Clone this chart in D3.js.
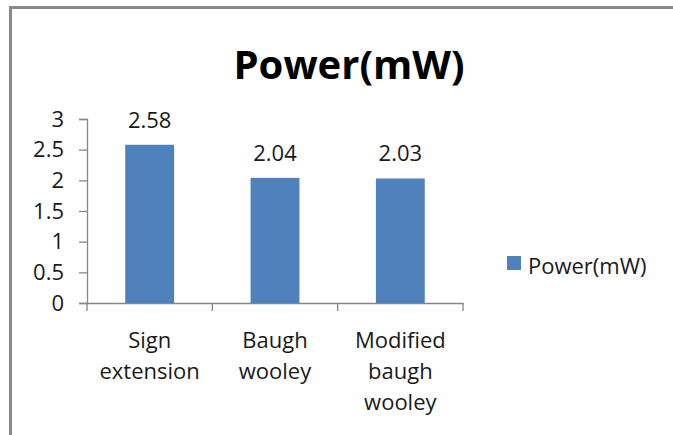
<!DOCTYPE html>
<html>
<head>
<meta charset="utf-8">
<script src="https://cdn.jsdelivr.net/npm/d3@7"></script>
<style>
  body { margin: 0; background: #fff; }
  text { font-family: "Open Sans", Lato, sans-serif; fill: #1a1a1a; }
</style>
</head>
<body>
<div id="chart"></div>
<script>
// data
const categories = [["Sign", "extension"], ["Baugh", "wooley"], ["Modified", "baugh", "wooley"]];
const powerValues = [2.58, 2.04, 2.03];
const yTicks = [0, 0.5, 1, 1.5, 2, 2.5, 3];
const seriesName = "Power(mW)";

const width = 673, height = 435;
const margin = { top: 119, bottom: 132, left: 87, right: 210 };
const fontPx = '22px';

let svg = d3.select('#chart')
  .append('svg')
  .attr('width', width)
  .attr('height', height)
  .style('background-color', '#fff');

// frame (left + top edge only, rest is cropped)
svg.append('path')
  .attr('d', `M10.5,${height} L10.5,7.5 L${width},7.5`)
  .attr('fill', 'none')
  .attr('stroke', '#8a8a8a')
  .attr('stroke-width', 3);

let yScale = d3.scaleLinear()
  .domain([0, 3])
  .range([height - margin.bottom, margin.top]); // 0 sits at y=303

let xScale = d3.scaleBand()
  .domain(categories.map((d, i) => i))
  .range([margin.left, width - margin.right])
  .padding(0);

let barW = xScale.bandwidth() * 0.39;

// y axis
let yAxis = svg.append('g')
  .attr('transform', `translate(${margin.left},0)`)
  .call(d3.axisLeft(yScale).tickValues(yTicks).tickSize(8).tickPadding(15).tickFormat(d3.format('')));
yAxis.selectAll('text').style('font-size', fontPx);

// x axis with category separators
let xAxis = svg.append('g')
  .attr('transform', `translate(0,${yScale(0)})`)
  .call(d3.axisBottom(xScale).tickSize(0).tickFormat(''));
xAxis.selectAll('.tick').remove();
xAxis.selectAll('.sep')
  .data(d3.range(categories.length + 1))
  .enter().append('line')
  .attr('class', 'sep')
  .attr('x1', i => margin.left + i * xScale.step())
  .attr('x2', i => margin.left + i * xScale.step())
  .attr('y1', 0)
  .attr('y2', 8);

svg.selectAll('.domain, .tick line, .sep')
  .attr('stroke', '#868686')
  .attr('stroke-width', 1.3);

// category labels (wrapped)
let cat = svg.selectAll('.cat')
  .data(categories)
  .enter().append('text')
  .attr('class', 'cat')
  .attr('text-anchor', 'middle')
  .style('font-size', fontPx);
cat.selectAll('tspan')
  .data((d, i) => d.map(w => ({ w, i })))
  .enter().append('tspan')
  .attr('x', d => xScale(d.i) + xScale.bandwidth() / 2)
  .attr('y', (d, j) => yScale(0) + 45 + j * 31)
  .text(d => d.w);

// bars
svg.selectAll('.bar')
  .data(powerValues)
  .enter().append('rect')
  .attr('class', 'bar')
  .attr('x', (d, i) => xScale(i) + xScale.bandwidth() / 2 - barW / 2)
  .attr('y', d => yScale(d))
  .attr('width', barW)
  .attr('height', d => yScale(0) - yScale(d))
  .attr('fill', '#4f81bd');

// value labels
svg.selectAll('.val')
  .data(powerValues)
  .enter().append('text')
  .attr('class', 'val')
  .attr('text-anchor', 'middle')
  .attr('x', (d, i) => xScale(i) + xScale.bandwidth() / 2)
  .attr('y', d => yScale(d) - 17)
  .style('font-size', fontPx)
  .text(d => d.toFixed(2));

// title
svg.append('text')
  .attr('x', 349)
  .attr('y', 79)
  .attr('text-anchor', 'middle')
  .style('font-size', '40px')
  .style('font-weight', 'bold')
  .style('fill', '#000')
  .text(seriesName);

// legend
let legend = svg.append('g').attr('transform', 'translate(507,256)');
legend.append('rect')
  .attr('width', 14)
  .attr('height', 14)
  .attr('fill', '#4f81bd');
legend.append('text')
  .attr('x', 21)
  .attr('y', 15)
  .attr('dy', '0.15em')
  .style('font-size', fontPx)
  .text(seriesName);
</script>
</body>
</html>
